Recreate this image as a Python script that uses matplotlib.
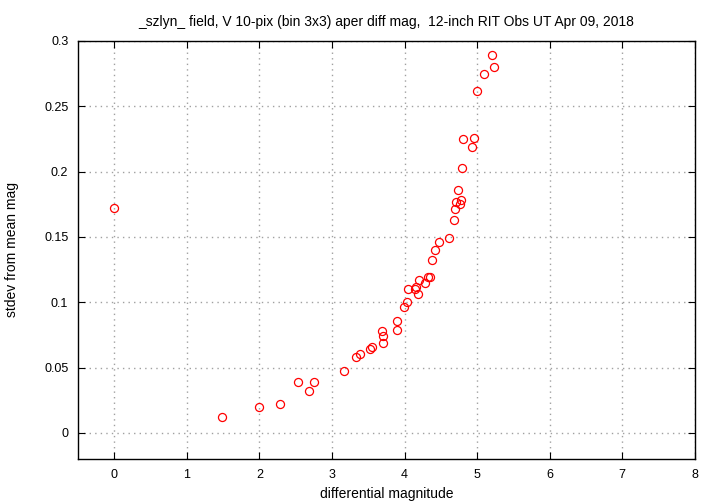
import matplotlib
matplotlib.use("Agg")
import matplotlib.pyplot as plt

plt.rcParams['font.family'] = ['Liberation Sans', 'DejaVu Sans']

diff_mag = [0.00, 1.48, 2.00, 2.29, 2.53, 2.68, 2.75, 3.17, 3.33, 3.39,
            3.52, 3.55, 3.69, 3.70, 3.71, 3.89, 3.89, 3.99, 4.04, 4.05,
            4.14, 4.16, 4.19, 4.20, 4.28, 4.33, 4.35, 4.38, 4.42, 4.47,
            4.61, 4.68, 4.70, 4.71, 4.73, 4.76, 4.78, 4.79, 4.80, 4.93,
            4.96, 5.00, 5.09, 5.20, 5.23]
stdev = [0.172, 0.012, 0.020, 0.022, 0.039, 0.032, 0.039, 0.047, 0.058, 0.060,
         0.064, 0.066, 0.078, 0.074, 0.069, 0.086, 0.079, 0.096, 0.100, 0.110,
         0.110, 0.112, 0.106, 0.117, 0.115, 0.119, 0.119, 0.132, 0.140, 0.146,
         0.149, 0.163, 0.171, 0.177, 0.186, 0.175, 0.178, 0.203, 0.225, 0.219,
         0.226, 0.262, 0.275, 0.289, 0.280]

xticks = [0, 1, 2, 3, 4, 5, 6, 7, 8]
yticks = [0, 0.05, 0.1, 0.15, 0.2, 0.25, 0.3]
ytick_labels = ['0', '0.05', '0.1', '0.15', '0.2', '0.25', '0.3']

fig = plt.figure(figsize=(7.2, 5.04), dpi=100)
ax = fig.add_axes([0.1083, 0.0893, 0.8567, 0.8294])

ax.plot(diff_mag, stdev, linestyle='none', marker='o', markersize=5.8,
        markerfacecolor='none', markeredgecolor='red', markeredgewidth=0.9)

ax.set_xlim(-0.5, 8)
ax.set_ylim(-0.02, 0.3)
ax.set_xticks(xticks)
ax.set_yticks(yticks)
ax.set_yticklabels(ytick_labels)
ax.grid(True, color='#a0a0a0', linestyle=(0, (1, 3)), linewidth=1)
ax.tick_params(direction='in', top=True, right=True, labelsize=9, length=5)
ax.tick_params(axis='x', pad=7)
ax.tick_params(axis='y', pad=7)
for s in ax.spines.values():
    s.set_linewidth(1)

# label centres placed like the gnuplot original
ax.set_xlabel('differential magnitude', fontsize=10, va='center')
ax.xaxis.set_label_coords(0.5, -0.084)
ax.set_ylabel('stdev from mean mag', fontsize=10, va='center')
ax.yaxis.set_label_coords(-0.107, 0.5)
ax.set_title('_szlyn_ field, V 10-pix (bin 3x3) aper diff mag,  12-inch RIT Obs UT Apr 09, 2018',
             fontsize=10, pad=11)

fig.savefig('out.png', dpi=100)
